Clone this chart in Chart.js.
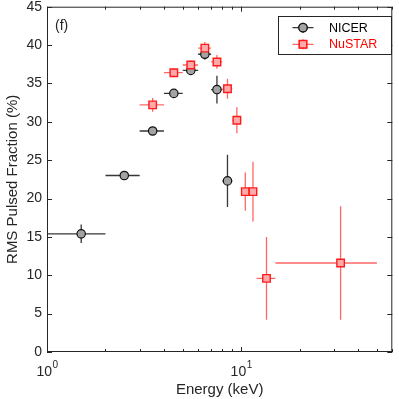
<!DOCTYPE html>
<html>
<head>
<meta charset="utf-8">
<script src="https://cdn.jsdelivr.net/npm/chart.js@4/dist/chart.umd.min.js"></script>
<style>
	html, body { margin: 0; padding: 0; background: #fff; }
	#wrap { width: 399px; height: 399px; }
</style>
</head>
<body>
<div id="wrap"><canvas id="rmsChart" width="399" height="399"></canvas></div>
<script>
// NICER energy bins (keV) and RMS pulsed fraction (%)
const nicerEnergy = [1.5, 2.5, 3.5, 4.5, 5.5, 6.5, 7.5, 8.5];
const nicerLo = [1, 2, 3, 4, 5, 6, 7, 8];
const nicerHi = [2, 3, 4, 5, 6, 7, 8, 9];
const nicerRms = [15.4, 23.0, 28.8, 33.7, 36.7, 38.8, 34.2, 22.3];
const nicerErr = [1.2, 0.3, 0.3, 0.3, 0.4, 0.7, 1.8, 3.4];

// NuSTAR
const nustarEnergy = [3.5, 4.5, 5.5, 6.5, 7.5, 8.5, 9.5, 10.5, 11.5, 13.5, 32.5];
const nustarLo = [3, 4, 5, 6, 7, 8, 9, 10, 11, 12, 15];
const nustarHi = [4, 5, 6, 7, 8, 9, 10, 11, 12, 15, 50];
const nustarRms = [32.2, 36.4, 37.4, 39.6, 37.8, 34.3, 30.2, 20.9, 20.9, 9.6, 11.6];
const nustarErr = [0.9, 0.6, 0.6, 0.8, 0.9, 1.3, 1.7, 2.5, 3.9, 5.4, 7.4];

// axis ticks
const xTickValues = [1, 2, 3, 4, 5, 6, 7, 8, 9, 10, 20, 30, 40, 50, 60];
const xMajorTicks = [1, 10];
const yTickValues = [0, 5, 10, 15, 20, 25, 30, 35, 40, 45];

document.addEventListener("DOMContentLoaded", () => {
	const axisColor = "#262626";
	const font = "'Liberation Sans', Arial, Helvetica, sans-serif";

	const toPoints = (xs, ys) => xs.map((x, i) => ({ x: x, y: ys[i] }));

	// error bars drawn under the markers
	const errorBars = {
		id: "errorBars",
		beforeDatasetsDraw(chart) {
			const ctx = chart.ctx;
			const xs = chart.scales.x;
			const ys = chart.scales.y;
			ctx.save();
			// draw NICER first, NuSTAR after
			[1, 0].forEach((di) => {
				const ds = chart.data.datasets[di];
				ctx.strokeStyle = ds.errColor;
				ctx.lineWidth = 1.3;
				ds.data.forEach((p, i) => {
					const px = xs.getPixelForValue(p.x);
					const py = ys.getPixelForValue(p.y);
					ctx.beginPath();
					ctx.moveTo(xs.getPixelForValue(ds.xLo[i]), py);
					ctx.lineTo(xs.getPixelForValue(ds.xHi[i]), py);
					ctx.moveTo(px, ys.getPixelForValue(p.y - ds.yErr[i]));
					ctx.lineTo(px, ys.getPixelForValue(p.y + ds.yErr[i]));
					ctx.stroke();
				});
			});
			ctx.restore();
		},
	};

	// matlab-like box, inward ticks, x labels, panel tag and legend
	const decorations = {
		id: "decorations",
		afterDraw(chart) {
			const ctx = chart.ctx;
			const area = chart.chartArea;
			const xs = chart.scales.x;
			const ys = chart.scales.y;
			ctx.save();
			ctx.strokeStyle = axisColor;
			ctx.lineWidth = 1;
			ctx.strokeRect(area.left + 0.5, area.top + 0.5, area.right - area.left - 1, area.bottom - area.top - 1);

			ctx.beginPath();
			xTickValues.forEach((v) => {
				const px = Math.round(xs.getPixelForValue(v)) + 0.5;
				const len = xMajorTicks.includes(v) ? 5 : 3;
				ctx.moveTo(px, area.bottom);
				ctx.lineTo(px, area.bottom - len);
				ctx.moveTo(px, area.top);
				ctx.lineTo(px, area.top + len);
			});
			yTickValues.forEach((v) => {
				const py = Math.round(ys.getPixelForValue(v)) + 0.5;
				ctx.moveTo(area.left, py);
				ctx.lineTo(area.left + 5, py);
				ctx.moveTo(area.right, py);
				ctx.lineTo(area.right - 5, py);
			});
			ctx.stroke();

			// x tick labels 10^n
			ctx.fillStyle = axisColor;
			ctx.textBaseline = "middle";
			xMajorTicks.forEach((v) => {
				const px = xs.getPixelForValue(v);
				const exp = String(Math.round(Math.log10(v)));
				ctx.font = "14px " + font;
				const wBase = ctx.measureText("10").width;
				ctx.font = "10px " + font;
				const wExp = ctx.measureText(exp).width;
				const x0 = px - (wBase + wExp) / 2;
				ctx.textAlign = "left";
				ctx.font = "14px " + font;
				ctx.fillText("10", x0, area.bottom + 20);
				ctx.font = "10px " + font;
				ctx.fillText(exp, x0 + wBase + 0.5, area.bottom + 13);
			});

			// panel tag
			ctx.font = "14px " + font;
			ctx.textAlign = "left";
			ctx.fillText("(f)", area.left + 8, area.top + 19);

			// legend
			const lx = 278, ly = 16, lw = 113, lh = 38;
			ctx.fillStyle = "#fff";
			ctx.fillRect(lx, ly, lw, lh);
			ctx.strokeStyle = axisColor;
			ctx.strokeRect(lx + 0.5, ly + 0.5, lw, lh);
			const rows = [
				{ ds: chart.data.datasets[1], y: 27.7, text: "#000" },
				{ ds: chart.data.datasets[0], y: 44.3, text: "#ff0000" },
			];
			rows.forEach((r) => {
				ctx.strokeStyle = r.ds.errColor;
				ctx.lineWidth = 1.3;
				ctx.beginPath();
				ctx.moveTo(292.5, r.y);
				ctx.lineTo(313.5, r.y);
				ctx.moveTo(303, r.y - 5);
				ctx.lineTo(303, r.y + 5);
				ctx.stroke();
				Chart.helpers.drawPoint(ctx, {
					pointStyle: r.ds.pointStyle,
					radius: r.ds.pointRadius,
					borderWidth: r.ds.borderWidth,
					rotation: 0,
				}, 303, r.y);
				ctx.fillStyle = r.ds.backgroundColor;
				ctx.strokeStyle = r.ds.borderColor;
				ctx.lineWidth = r.ds.borderWidth;
				ctx.fill();
				ctx.stroke();
				ctx.fillStyle = r.text;
				ctx.font = "12.5px " + font;
				ctx.textAlign = "left";
				ctx.textBaseline = "middle";
				ctx.fillText(r.ds.label, 329, r.y + 0.5);
			});
			ctx.restore();
		},
	};

	const ctx = document.getElementById("rmsChart").getContext("2d");
	new Chart(ctx, {
		type: "scatter",
		data: {
			datasets: [
				{
					label: "NuSTAR",
					data: toPoints(nustarEnergy, nustarRms),
					xLo: nustarLo,
					xHi: nustarHi,
					yErr: nustarErr,
					errColor: "rgba(255, 0, 0, 0.6)",
					pointStyle: "rect",
					pointRadius: 5.3,
					borderWidth: 1.4,
					backgroundColor: "#ffaaaa",
					borderColor: "#ff1a1a",
					order: 0,
				},
				{
					label: "NICER",
					data: toPoints(nicerEnergy, nicerRms),
					xLo: nicerLo,
					xHi: nicerHi,
					yErr: nicerErr,
					errColor: "rgba(20, 20, 20, 0.85)",
					pointStyle: "circle",
					pointRadius: 4.2,
					borderWidth: 1.2,
					backgroundColor: "#a3a3a3",
					borderColor: "#111",
					order: 1,
				},
			],
		},
		options: {
			responsive: false,
			animation: false,
			layout: { padding: { top: 4, right: 5, left: 0, bottom: 0 } },
			plugins: {
				legend: { display: false },
				tooltip: { enabled: false },
			},
			scales: {
				x: {
					type: "logarithmic",
					min: 1,
					max: 60,
					grid: { display: false, drawTicks: false },
					border: { display: false },
					ticks: { display: false },
					afterBuildTicks: (scale) => {
						scale.ticks = xTickValues.map((v) => ({ value: v }));
					},
					afterFit: (scale) => {
						scale.height = 47;
						scale.paddingLeft = 0;
						scale.paddingRight = 0;
					},
					title: {
						display: true,
						text: "Energy (keV)",
						color: axisColor,
						font: { family: font, size: 15 },
						padding: { top: 0, bottom: 0 },
					},
				},
				y: {
					min: 0,
					max: 45,
					grid: { display: false, drawTicks: false },
					border: { display: false },
					afterBuildTicks: (scale) => {
						scale.ticks = yTickValues.map((v) => ({ value: v }));
					},
					ticks: {
						color: axisColor,
						padding: 5,
						font: { family: font, size: 14 },
					},
					afterFit: (scale) => {
						scale.width = 47;
						scale.paddingTop = 0;
						scale.paddingBottom = 0;
					},
					title: {
						display: true,
						text: "RMS Pulsed Fraction (%)",
						color: axisColor,
						font: { family: font, size: 15 },
						padding: { top: 4, bottom: 0 },
					},
				},
			},
		},
		plugins: [errorBars, decorations],
	});
});
</script>
</body>
</html>
